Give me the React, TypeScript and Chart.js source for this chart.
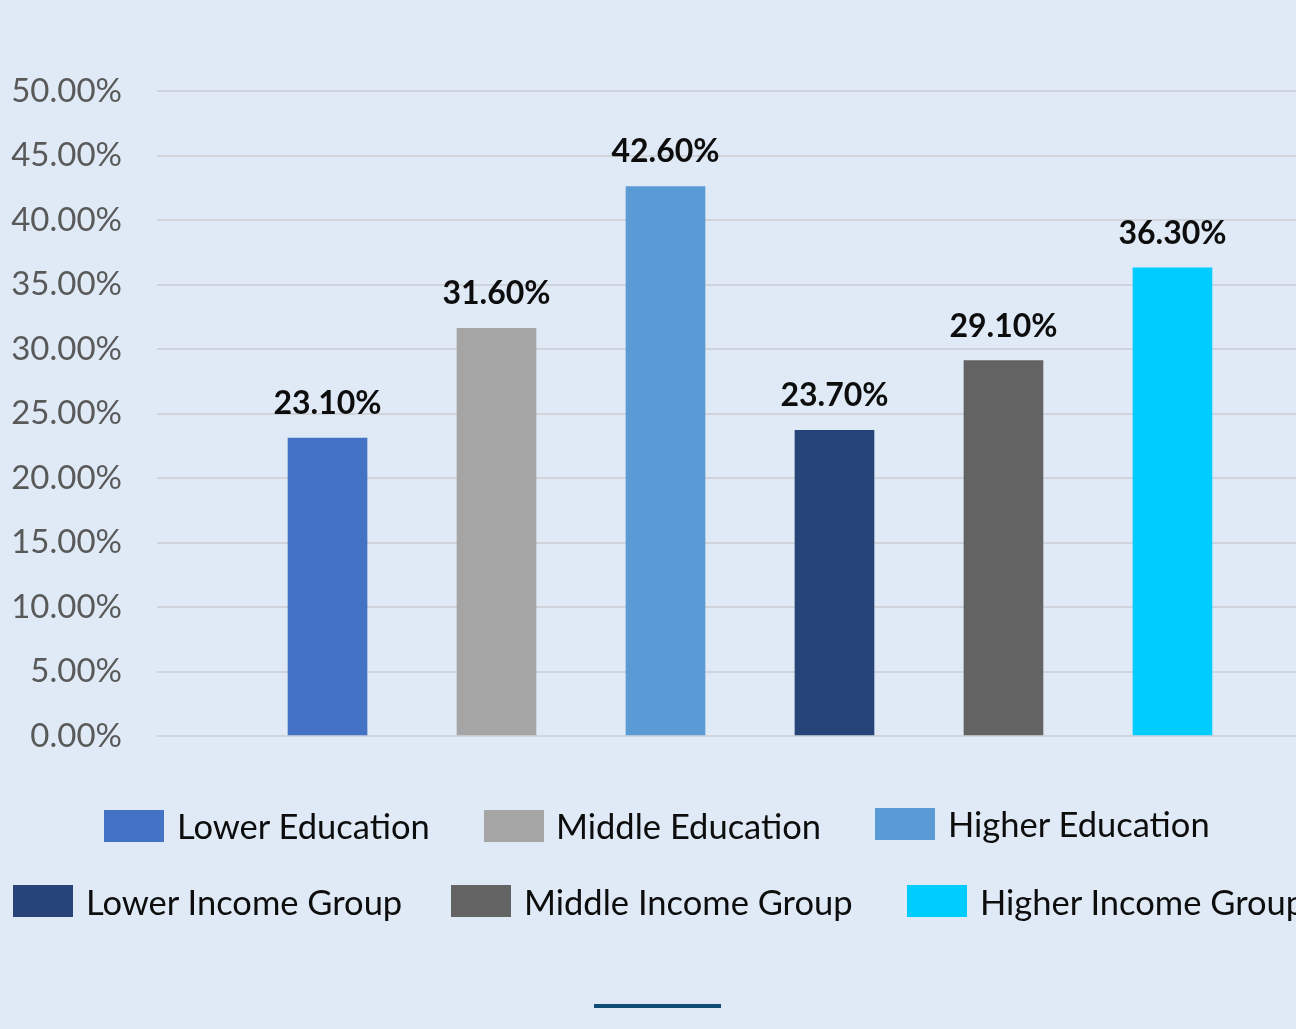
import React, { useEffect, useRef } from "react";
import { Chart, registerables } from "chart.js";

Chart.register(...registerables);

const categories = [
  "Lower Education",
  "Middle Education",
  "Higher Education",
  "Lower Income Group",
  "Middle Income Group",
  "Higher Income Group",
];
const values = [23.1, 31.6, 42.6, 23.7, 29.1, 36.3];
const colors = ["#4472c4", "#a5a5a5", "#5b9bd5", "#264478", "#636363", "#00ccff"];
const yTicks = [0, 5, 10, 15, 20, 25, 30, 35, 40, 45, 50];

const legendLayout = [
  { box: [104, 810], text: 177, cy: 826 },
  { box: [484, 810], text: 556, cy: 826 },
  { box: [875, 808], text: 948, cy: 824 },
  { box: [13, 885], text: 86, cy: 902 },
  { box: [451, 885], text: 524, cy: 902 },
  { box: [907, 885], text: 980, cy: 902 },
];

const BG = "#dfeaf6";

export default function App() {
  const ref = useRef<HTMLCanvasElement | null>(null);

  useEffect(() => {
    if (!ref.current) return;
    const labelPlugin = {
      id: "valueLabels",
      afterDatasetsDraw(chart: any) {
        const ctx = chart.ctx;
        const meta = chart.getDatasetMeta(0);
        ctx.save();
        ctx.font = "bold 32px Lato";
        ctx.fillStyle = "#0d0d0d";
        ctx.textAlign = "center";
        ctx.textBaseline = "alphabetic";
        meta.data.forEach((bar: any, i: number) => {
          ctx.fillText(values[i].toFixed(2) + "%", bar.x, bar.y - 24);
        });
        ctx.restore();
      },
    };
    const chart = new Chart(ref.current, {
      type: "bar",
      data: {
        datasets: [
          {
            label: "Share",
            data: values.map((v, i) => ({ x: i, y: v })),
            backgroundColor: colors,
            barThickness: 79,
          },
        ],
      },
      options: {
        animation: false,
        responsive: false,
        layout: { padding: { top: 91, bottom: 293, left: 0, right: 0 } },
        plugins: { legend: { display: false }, tooltip: { enabled: false } },
        scales: {
          x: {
            type: "linear",
            display: false,
            offset: false,
            min: -1.009,
            max: 5.731,
          },
          y: {
            min: 0,
            max: 50,
            afterFit: (s: any) => {
              s.width = 157;
            },
            afterBuildTicks: (s: any) => {
              s.ticks = yTicks.map((v) => ({ value: v }));
            },
            border: { display: false },
            grid: { color: "#d0d4da", lineWidth: 2, drawTicks: false },
            ticks: {
              padding: 35,
              color: "#595959",
              font: { family: "Lato", size: 33 },
              callback: (v: any) => Number(v).toFixed(2) + "%",
            },
          },
        },
      },
      plugins: [labelPlugin],
    });
    return () => chart.destroy();
  }, []);

  return (
    <div
      style={{
        position: "absolute",
        left: 0,
        top: 0,
        width: 1296,
        height: 1029,
        background: BG,
        overflow: "hidden",
        fontFamily: "Lato",
      }}
    >
      <canvas ref={ref} width={1296} height={1029} style={{ position: "absolute", left: 0, top: 0 }} />
      {categories.map((c, i) => {
        const l = legendLayout[i];
        return (
          <React.Fragment key={c}>
            <div
              style={{
                position: "absolute",
                left: l.box[0],
                top: l.box[1],
                width: 60,
                height: 32,
                background: colors[i],
              }}
            />
            <div
              style={{
                position: "absolute",
                left: l.text,
                top: l.cy - 20,
                height: 40,
                lineHeight: "40px",
                fontSize: 34.5,
                color: "#0d0d0d",
                whiteSpace: "nowrap",
              }}
            >
              {c}
            </div>
          </React.Fragment>
        );
      })}
      <div
        style={{
          position: "absolute",
          left: 594,
          top: 1004,
          width: 127,
          height: 4,
          background: "#124d78",
        }}
      />
    </div>
  );
}
